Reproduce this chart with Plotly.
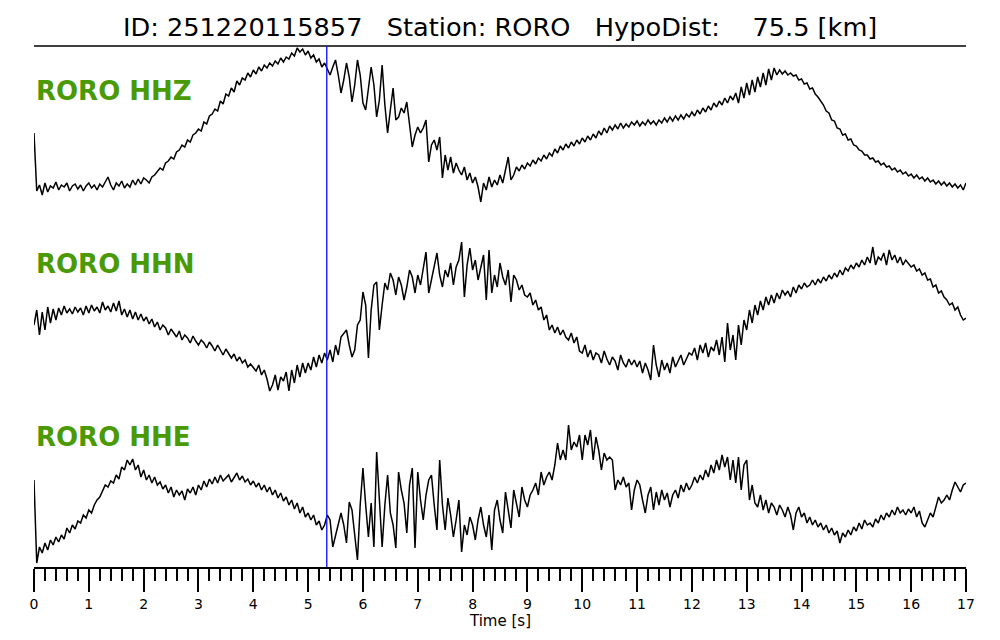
import numpy as np
import plotly.graph_objects as go

# ---------------- data ----------------
DT = 0.05
PICK_TIME = 5.34       # P pick [s]
TITLE = "ID: 251220115857   Station: RORO   HypoDist:    75.5 [km]"
CHANNELS = ["RORO HHZ", "RORO HHN", "RORO HHE"]
TICK_VALUES = list(range(0, 18))

hhz = [
    -8, -66, -60, -70, -58, -67, -61, -63, -57, -65, -60, -62, -58, -66, -61, -59, -64, -60, -66, -61,
    -58, -63, -60, -65, -59, -62, -57, -52, -60, -65, -58, -61, -56, -63, -59, -62, -55, -60, -54, -59,
    -53, -55, -58, -52, -50, -46, -43, -45, -38, -36, -32, -34, -27, -25, -20, -22, -15, -17, -10, -8,
    -4, -6, 3, 1, 9, 11, 16, 14, 24, 21, 31, 29, 37, 33, 44, 40, 47, 45, 52, 48,
    55, 51, 58, 54, 60, 57, 62, 59, 64, 61, 67, 63, 68, 66, 72, 69, 77, 73, 76, 70,
    74, 67, 70, 63, 66, 58, 62, 56, 50, 58, 65, 50, 32, 45, 62, 48, 23, 40, 65, 50,
    22, 15, 35, 58, 40, 8, 25, 60, 20, -8, 15, 37, 5, 8, 17, 12, 23, 0, -22, -10,
    -2, -8, -3, 5, -37, -20, -15, -25, -12, -53, -30, -45, -32, -48, -38, -45, -50, -42, -55, -48,
    -58, -52, -62, -77, -58, -65, -52, -62, -55, -60, -50, -58, -45, -32, -55, -50, -42, -46, -40, -44,
    -38, -41, -35, -39, -33, -36, -30, -34, -28, -31, -24, -28, -21, -25, -19, -23, -17, -21, -15, -19,
    -13, -17, -11, -15, -9, -13, -6, -10, -3, -8, -1, -5, 0, -4, 2, -3, 1, -2, 3, 0,
    4, -1, 3, 0, 5, 1, 4, 0, 5, 2, 7, 3, 8, 4, 9, 5, 10, 6, 11, 8,
    13, 9, 15, 11, 17, 13, 19, 15, 22, 18, 24, 20, 27, 22, 29, 25, 32, 22, 38, 27,
    42, 30, 45, 33, 48, 38, 52, 40, 56, 45, 57, 50, 55, 51, 54, 50, 52, 49, 50, 45,
    46, 41, 42, 36, 37, 31, 28, 24, 20, 14, 12, 5, 4, -3, -4, -10, -9, -15, -14, -20,
    -21, -25, -26, -30, -30, -34, -33, -37, -36, -40, -38, -42, -41, -45, -43, -47, -45, -49, -47, -51,
    -49, -53, -50, -54, -52, -56, -53, -57, -55, -59, -56, -60, -57, -61, -58, -62, -59, -63, -60, -65,
    -58,
]

hhn = [
    -10, 5, -20, 3, -15, 8, -8, 6, -5, 7, 0, 9, 2, 6, 1, 8, 3, 7, 0, 9,
    2, 10, 4, 8, 2, 13, 5, 9, 3, 12, 4, 14, 0, 6, -2, 5, -4, 3, -5, 1,
    -6, -2, -9, -4, -12, -7, -15, -10, -13, -20, -14, -18, -22, -16, -25, -20, -23, -28, -21, -26,
    -30, -25, -28, -33, -27, -31, -36, -30, -35, -40, -34, -38, -43, -39, -46, -42, -48, -45, -52, -49,
    -52, -56, -50, -60, -55, -64, -76, -70, -60, -75, -62, -66, -57, -76, -55, -68, -50, -62, -48, -58,
    -48, -55, -42, -52, -40, -48, -38, -45, -35, -47, -30, -40, -22, -18, -15, -30, -42, -35, -10, -5,
    23, 10, -43, 5, 30, 33, -15, 10, 32, 25, 42, 35, 20, 38, 30, 15, 28, 45, 38, 22,
    40, 30, 48, 63, 22, 35, 50, 62, 40, 28, 45, 38, 52, 30, 48, 55, 73, 18, 50, 67,
    45, 55, 35, 48, 60, 15, 65, 22, 40, 28, 52, 38, 30, 45, 13, 40, 35, 25, 30, 20,
    18, 22, 10, 15, 5, 8, -5, 0, -15, -10, -18, -12, -20, -15, -22, -25, -18, -28, -22, -36,
    -38, -30, -42, -35, -45, -38, -40, -48, -36, -44, -50, -42, -46, -55, -40, -48, -52, -44, -50, -45,
    -52, -46, -58, -48, -55, -65, -30, -50, -62, -45, -55, -48, -58, -42, -52, -46, -40, -50, -44, -38,
    -40, -33, -45, -30, -38, -28, -42, -32, -36, -25, -40, -22, -47, -8, -35, -20, -45, -10, -30, -5,
    -15, 5, -8, 10, 0, 14, 5, 18, 10, 20, 12, 22, 16, 25, 20, 24, 18, 28, 22, 30,
    26, 32, 28, 30, 35, 30, 36, 32, 38, 34, 40, 36, 42, 38, 45, 40, 47, 44, 50, 46,
    52, 48, 55, 50, 58, 52, 68, 50, 58, 55, 62, 50, 65, 55, 60, 52, 58, 50, 55, 52,
    48, 50, 44, 46, 40, 42, 35, 36, 28, 30, 22, 24, 18, 15, 10, 12, 5, 8, 0, -5,
    -3,
]

hhe = [
    15, -68, -52, -58, -48, -55, -45, -50, -42, -47, -40, -44, -33, -38, -30, -34, -26, -28, -20, -23,
    -15, -18, -10, -5, -2, 5, 10, 8, 14, 12, 20, 16, 28, 25, 35, 30, 36, 25, 30, 18,
    25, 15, 20, 12, 18, 10, 13, 6, 10, 2, 8, -2, 5, 0, 4, -5, 6, 2, 8, 0,
    10, 5, 14, 8, 16, 11, 18, 12, 20, 14, 17, 20, 13, 18, 22, 15, 19, 13, 16, 10,
    14, 8, 12, 5, 10, 3, 8, 0, 5, -3, 2, -6, -2, -10, -5, -14, -8, -18, -12, -22,
    -18, -25, -20, -30, -26, -35, -30, -20, -25, -52, -40, -28, -18, -30, -48, -7, -15, -40, -65, -10,
    27, -10, -42, -8, -52, 43, 0, -52, -10, 20, -18, -30, -53, 23, 5, -8, -38, 10, 27, -53,
    23, -5, -25, 0, 15, 20, -10, -35, 35, -10, -35, -3, -20, -42, -25, -5, -57, -30, -40, -22,
    -30, -45, -25, -12, -30, -42, -20, -55, -15, -5, -25, -38, 3, -15, -33, 5, -10, -22, 8, -5,
    -12, 0, 5, 12, 0, 23, 10, 18, 23, 15, 30, 52, 35, 45, 35, 70, 45, 53, 48, 60,
    35, 60, 50, 65, 35, 58, 45, 25, 42, 35, 38, 35, 5, 15, 10, 18, 8, 12, -15, 5,
    15, 10, -5, -18, 0, 8, -15, 3, -10, 5, -5, 2, -12, 0, 5, -3, 10, 3, 12, 5,
    10, 18, 12, 20, 15, 25, 18, 30, 22, 35, 25, 40, 28, 38, 15, 35, 12, 38, 5, 30,
    35, -5, 10, -8, -12, 0, -15, -5, -18, -8, -12, -20, -10, -15, -22, -12, -20, -35, -18, -12,
    -22, -18, -28, -22, -30, -25, -32, -28, -35, -30, -38, -33, -40, -36, -48, -38, -42, -35, -40, -32,
    -36, -28, -34, -25, -30, -28, -32, -24, -28, -20, -25, -18, -22, -15, -20, -12, -18, -15, -20, -14,
    -18, -12, -22, -16, -28, -32, -25, -18, -22, -12, -2, -8, -5, 0, -5, 5, 13, 8, 3, 10,
    12,
]

# ---------------- layout constants ----------------
PAGE_OFFSET = 8                      # default body margin of the html page
W, H = 1000 - PAGE_OFFSET, 640 - PAGE_OFFSET
ML, MR, MT, MB = 34 - PAGE_OFFSET, 34, 46 - PAGE_OFFSET, 73
PLOT_H = H - MT - MB                 # 521 px
TRACE_OFFSETS = [-79, -269, -449]    # vertical placement of each trace
LABEL_Y = [0.9136, 0.5816, 0.2495]   # paper y of channel labels
TITLE_Y = (567 - 27) / 521
XLABEL_Y = (567 - 621) / 521
GREEN = "#4a9a05"
FONT = "DejaVu Sans"

fig = go.Figure()
for vals, off in zip([hhz, hhn, hhe], TRACE_OFFSETS):
    t = np.arange(len(vals)) * DT
    fig.add_trace(go.Scatter(
        x=t, y=np.array(vals, dtype=float) + off, mode="lines",
        line=dict(color="black", width=1.5), hoverinfo="skip", showlegend=False))

fig.add_shape(type="line", xref="paper", yref="paper", x0=0, x1=1, y0=1, y1=1,
              line=dict(color="black", width=1.5))
fig.add_shape(type="line", xref="x", yref="paper", x0=PICK_TIME, x1=PICK_TIME, y0=0, y1=1,
              line=dict(color="#1a1aff", width=1.4))

fig.add_annotation(text=TITLE.replace(" ", "\u00a0"), xref="paper", yref="paper",
                   x=0.5, y=TITLE_Y, xanchor="center", yanchor="middle",
                   showarrow=False, font=dict(family=FONT, size=25.6, color="black"))
for name, ly in zip(CHANNELS, LABEL_Y):
    fig.add_annotation(text="<b>" + name + "</b>", xref="paper", yref="paper", x=0, y=ly,
                       xanchor="left", yanchor="middle", showarrow=False,
                       font=dict(family=FONT, size=26, color=GREEN))
fig.add_annotation(text="Time [s]", xref="paper", yref="paper", x=0.5,
                   y=XLABEL_Y, xanchor="center", yanchor="middle",
                   showarrow=False, font=dict(family=FONT, size=15, color="black"))

fig.update_layout(
    width=W, height=H, margin=dict(l=ML, r=MR, t=MT, b=MB, pad=0),
    paper_bgcolor="white", plot_bgcolor="white",
    xaxis=dict(range=[0, 17], tickmode="array", tickvals=TICK_VALUES,
               ticktext=[str(v) for v in TICK_VALUES],
               ticks="outside", ticklen=23, tickwidth=2, tickcolor="black",
               showline=True, linecolor="black", linewidth=2,
               showgrid=False, zeroline=False,
               tickfont=dict(family=FONT, size=14, color="black"),
               minor=dict(dtick=0.2, tick0=0, ticks="outside", ticklen=12,
                          tickwidth=2, tickcolor="black", showgrid=False)),
    yaxis=dict(range=[-PLOT_H, 0], visible=False, showgrid=False, zeroline=False),
)

fig.write_html("out.html")
